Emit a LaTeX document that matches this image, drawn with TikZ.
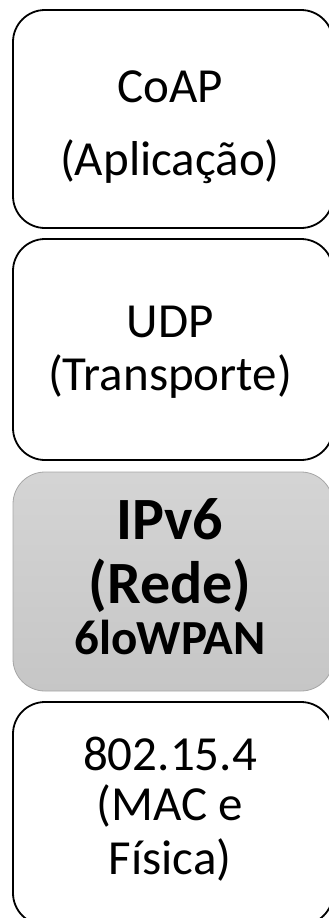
\documentclass[tikz,border=0pt]{standalone}
\usepackage{fontspec}
\setmainfont{Carlito}
\usetikzlibrary{positioning}

\definecolor{camadacinza}{HTML}{C6C6C6}
\definecolor{bordacinza}{HTML}{A6A6A6}

\tikzset{
  camada/.style={draw=black, line width=1.8pt, rounded corners=32pt,
    minimum width=320pt, inner sep=0pt},
  rede/.style={camada, draw=bordacinza, line width=0.8pt,
    top color=camadacinza!75, bottom color=camadacinza},
  rotulo/.style={anchor=base, inner sep=0pt, font=\fontsize{49}{58}\selectfont},
  rotulobf/.style={anchor=base, inner sep=0pt, font=\fontsize{60}{72}\selectfont\bfseries}
}

\begin{document}
\begin{tikzpicture}[x=1pt, y=-1pt]
\useasboundingbox (0,0) rectangle (329,918);
% camadas
\node[camada, minimum height=218pt] (apl) at (173,119) {};
\node[camada, minimum height=221pt] (tra) at (173,349.5) {};
\node[rede, minimum height=219pt] (red) at (173,581.5) {};
\node[camada, minimum height=223pt] (fis) at (173,813.5) {};
% textos
\node[rotulo] (coap) at (170,102) {CoAP};
\node[rotulo] (aplic) at (170,175) {(Aplicação)};
\node[rotulo] (udp) at (170,337) {UDP};
\node[rotulo] (transp) at (170,390) {(Transporte)};
\node[rotulobf] (ipv6) at (170,539) {IPv6};
\node[rotulobf] (rede) at (170,603) {(Rede)};
\node[rotulo, font=\fontsize{49}{58}\selectfont\bfseries] (lowpan) at (170,654) {6loWPAN};
\node[rotulo] (ieee) at (170,770) {802.15.4};
\node[rotulo] (mac) at (170,820) {(MAC e};
\node[rotulo] (fisica) at (170,874) {Física)};
\end{tikzpicture}
\end{document}
